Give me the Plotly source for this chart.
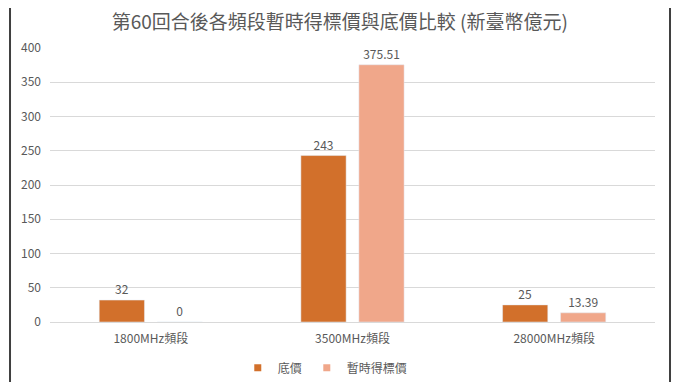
import plotly.graph_objects as go

categories = ["1800MHz頻段", "3500MHz頻段", "28000MHz頻段"]
base_price = [32, 243, 25]
bid_price = [0, 375.51, 13.39]
base_labels = ["32", "243", "25"]
bid_labels = ["0", "375.51", "13.39"]
series_names = ["底價", "暫時得標價"]
series_colors = ["#D2702B", "#F0A78A"]
title_text = "第60回合後各頻段暫時得標價與底價比較 (新臺幣億元)"

FONT = "Noto Sans CJK TC"
GRAY = "#595959"

fig = go.Figure()
for vals, labels, name, color in [(base_price, base_labels, series_names[0], series_colors[0]),
                                  (bid_price, bid_labels, series_names[1], series_colors[1])]:
    fig.add_trace(go.Bar(
        x=categories, y=vals, name=name, showlegend=False,
        marker_color=color, text=labels, textposition="outside",
        textfont=dict(color=GRAY, size=12, family=FONT), cliponaxis=False,
    ))
for name, color in zip(series_names, series_colors):
    fig.add_trace(go.Scatter(
        x=[None], y=[None], mode="markers", name=name,
        marker=dict(symbol="square", size=7, color=color),
    ))

fig.update_layout(
    width=680, height=382,
    margin=dict(l=42, r=33, t=40, b=68, autoexpand=False),
    paper_bgcolor="white", plot_bgcolor="white",
    barmode="group", bargap=0.425, bargroupgap=0.22,
    title=dict(text=title_text, x=0.488, xanchor="center", yref="container", y=0.962,
               yanchor="middle", font=dict(family=FONT, size=19, color=GRAY)),
    font=dict(family=FONT, color=GRAY, size=12),
    legend=dict(orientation="h", x=0.455, xanchor="center", yref="container", y=0.058,
                yanchor="middle", font=dict(family=FONT, size=12, color=GRAY),
                itemwidth=30, traceorder="normal"),
    xaxis=dict(showline=True, linecolor="#D9D9D9", linewidth=1, ticks="",
               automargin=False, ticklabelstandoff=6,
               tickfont=dict(family=FONT, size=12, color=GRAY)),
    yaxis=dict(range=[0, 400], dtick=50, showgrid=True, gridcolor="#D9D9D9",
               zeroline=False, ticks="", ticklabelstandoff=8, automargin=False,
               tickfont=dict(family=FONT, size=12, color=GRAY)),
    shapes=[
        dict(type="line", xref="paper", yref="paper", x0=-0.0661, x1=-0.0661,
             y0=-0.3, y1=1.2, line=dict(color="#404040", width=2)),
        dict(type="line", xref="paper", yref="paper", x0=1.0248, x1=1.0248,
             y0=-0.3, y1=1.2, line=dict(color="#404040", width=2)),
    ],
)

fig.write_html("out.html")
